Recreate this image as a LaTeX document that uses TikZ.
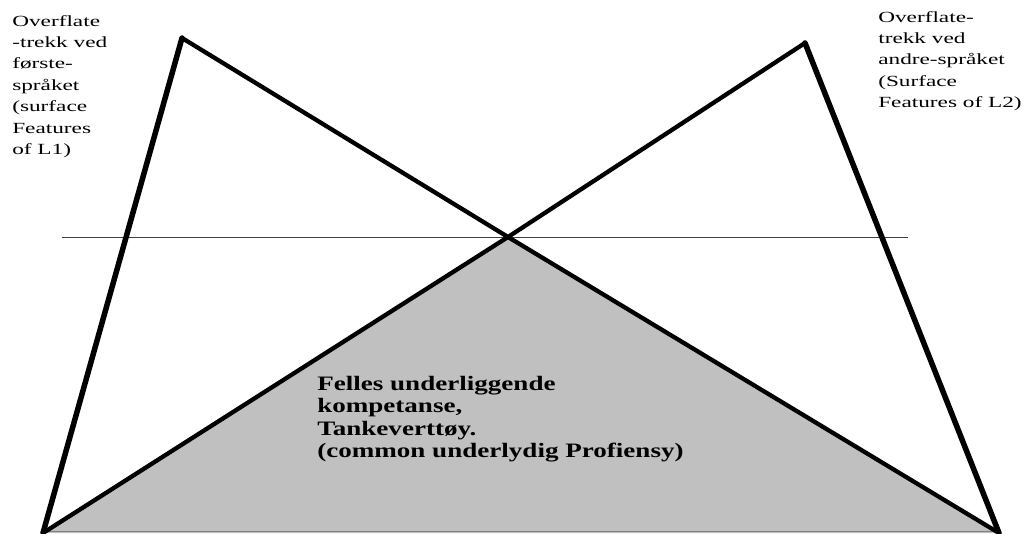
\documentclass[tikz,border=0pt]{standalone}
\usepackage{fontspec}
\setmainfont{Liberation Serif}
\definecolor{areagray}{HTML}{C0C0C0}
\definecolor{rulegray}{HTML}{404040}
\tikzset{
  legline/.style={line width=5.5pt, line join=round, line cap=round},
  crossline/.style={line width=4.3pt, line join=round, line cap=round},
  smalltext/.style={inner sep=0pt, anchor=north west, align=left, xscale=1.5,
    font=\fontsize{15.5}{21.4}\selectfont},
  bigtext/.style={inner sep=0pt, anchor=north west, align=left, xscale=1.32,
    font=\fontsize{20.5}{22.5}\selectfont\bfseries}
}
\begin{document}
\begin{tikzpicture}[x=1pt,y=-1pt]
\useasboundingbox (0,0) rectangle (1035,533);
\coordinate (BL) at (43,533);
\coordinate (BR) at (999,533);
\coordinate (PL) at (182,38);
\coordinate (PR) at (805,43);
\coordinate (C) at (508,237);
\coordinate (HL) at (62,237);
\coordinate (HR) at (908,237);
\coordinate (BLi) at (46,531);
\coordinate (BRi) at (996,531);
% gray area
\fill[areagray] (BL) -- (C) -- (BR) -- cycle;
\draw[gray, line width=1pt] (BLi) -- (BRi);
% horizontal rule
\draw[rulegray, line width=1pt] (HL) -- (HR);
% crossing lines
\draw[crossline] (PL) -- (C) -- (BR);
\draw[crossline] (PR) -- (C) -- (BL);
% outer legs
\draw[legline] (BL) -- (PL);
\draw[legline] (PR) -- (BR);
% texts
\node[smalltext] (tl) at (12,15) {Overflate\\-trekk ved\\første-\\språket\\(surface\\Features\\of L1)};
\node[smalltext] (tr) at (878,11) {Overflate-\\trekk ved\\andre-språket\\(Surface\\Features of L2)};
\node[bigtext] (tc) at (317,376) {Felles underliggende\\kompetanse,\\Tankeverttøy.\\(common underlydig Profiensy)};
\end{tikzpicture}
\end{document}
